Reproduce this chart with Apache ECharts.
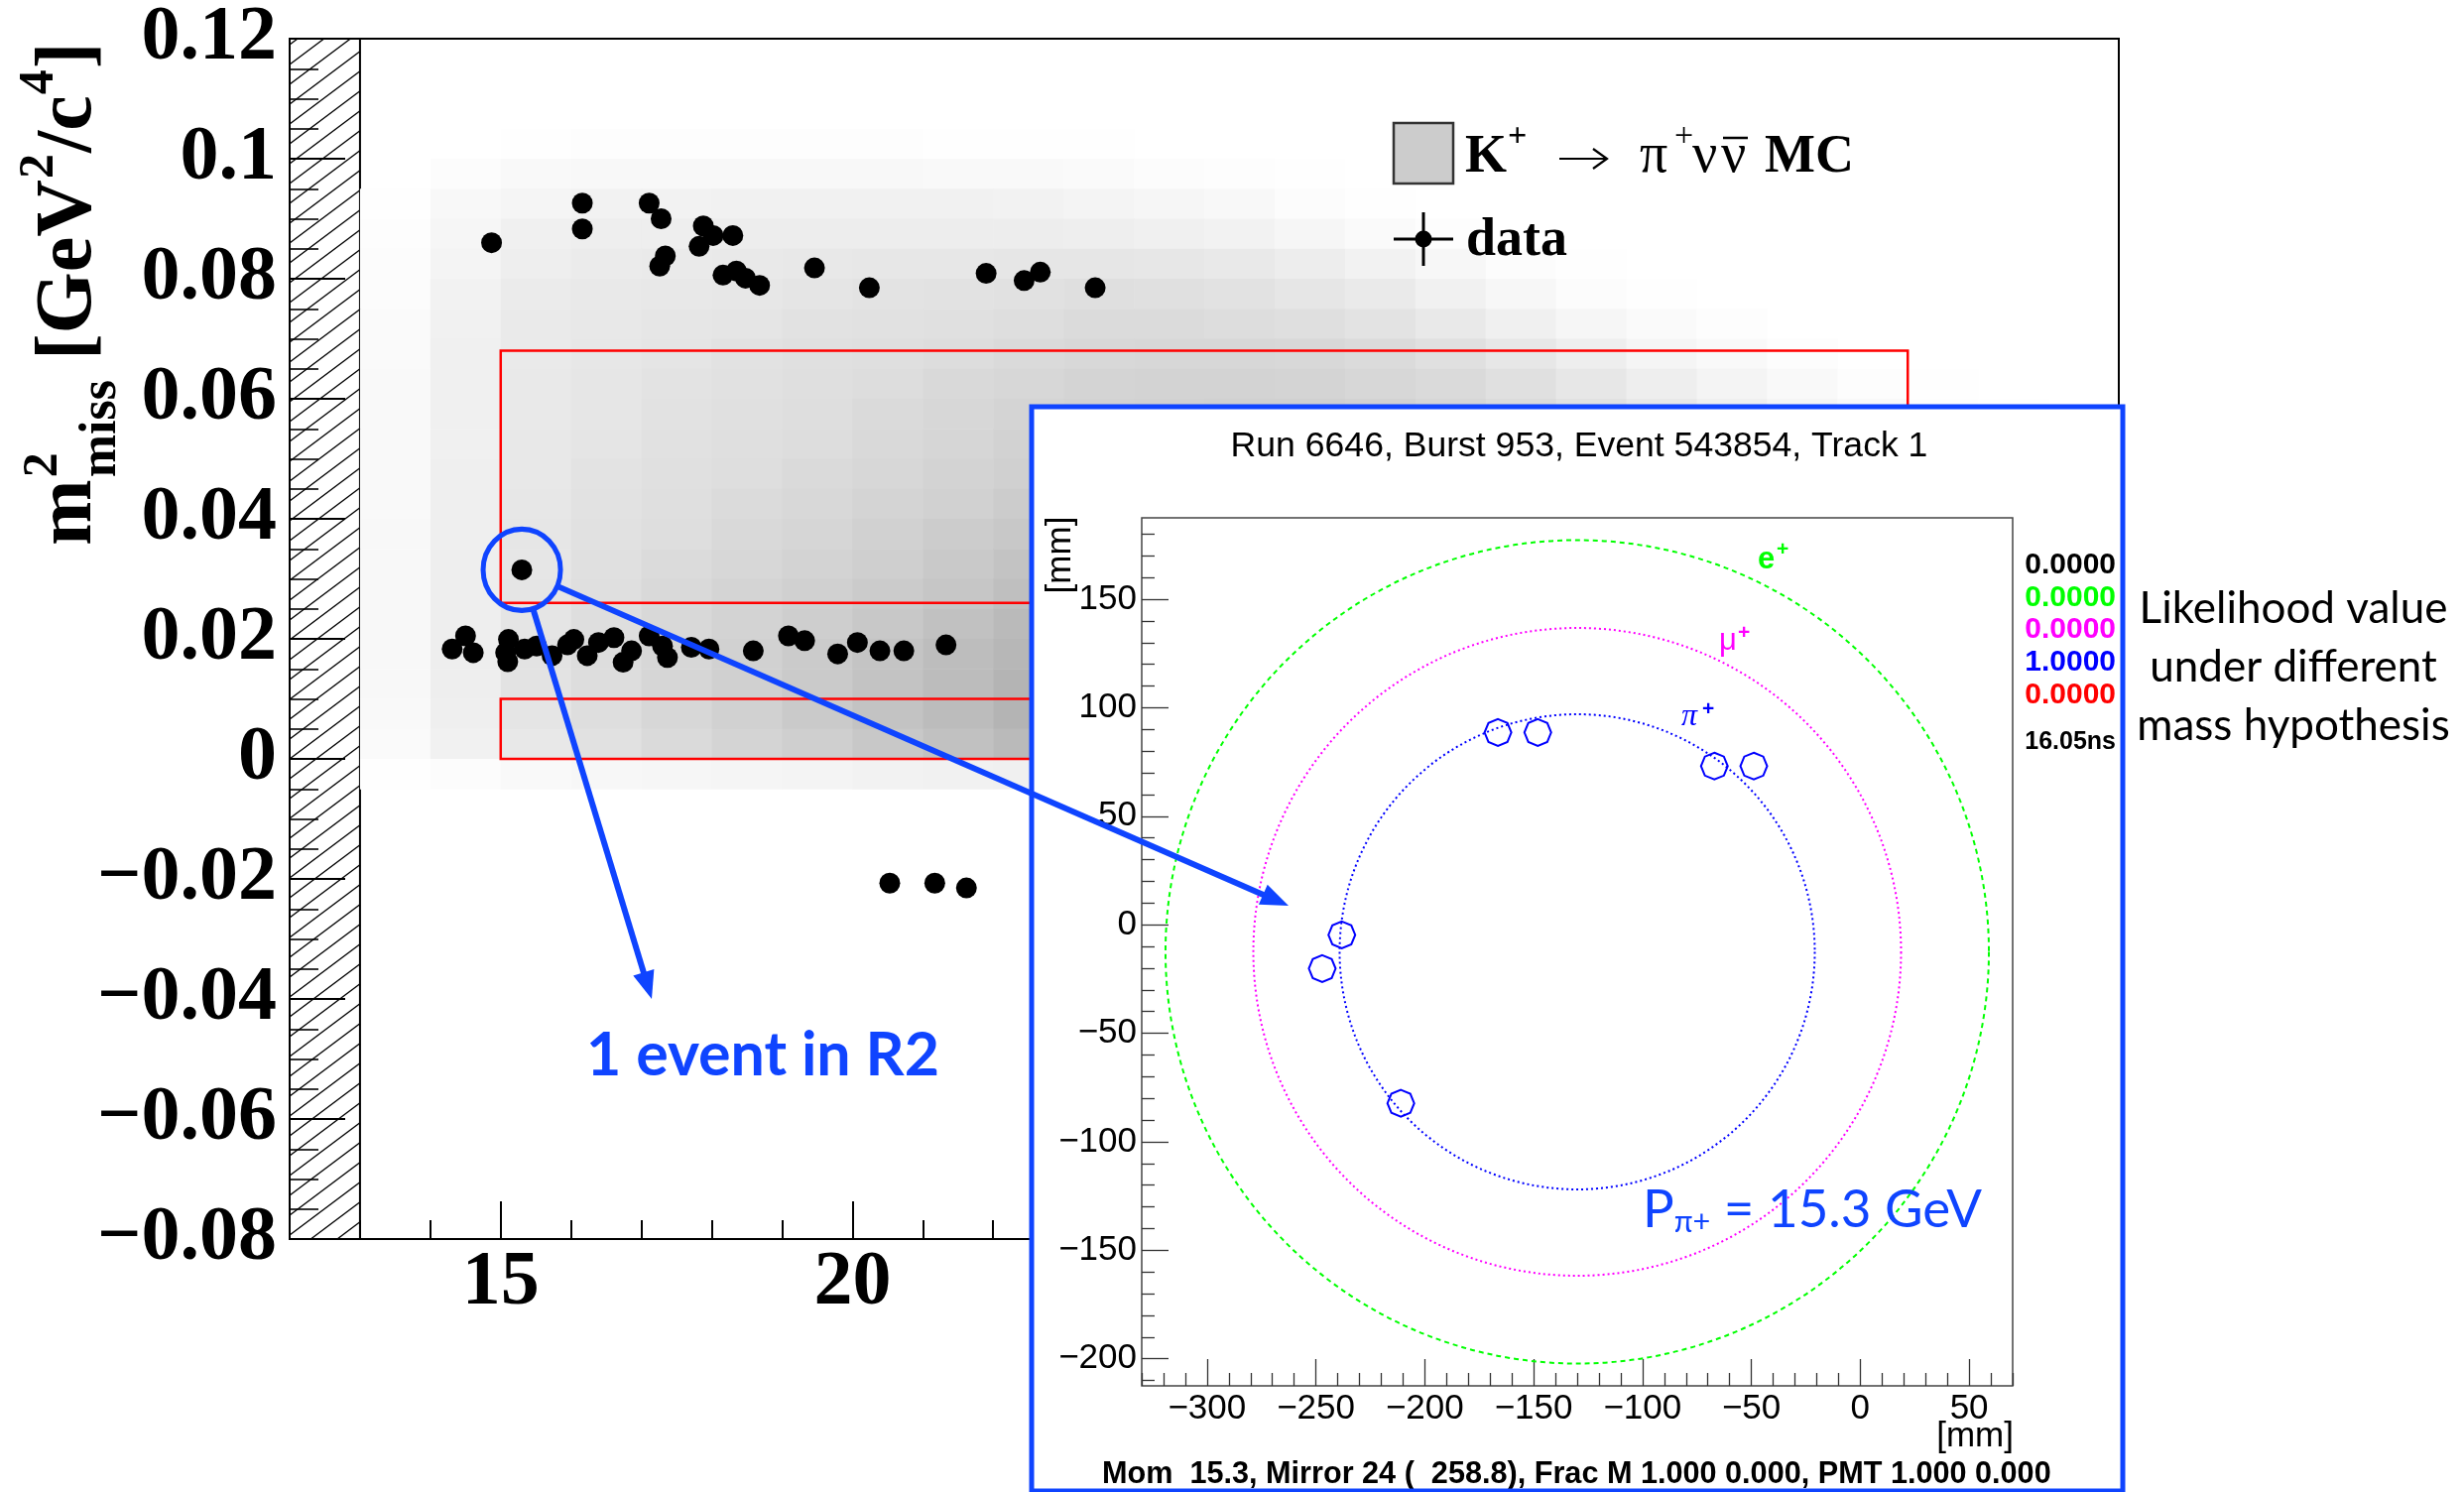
<!DOCTYPE html>
<html>
<head>
<meta charset="utf-8">
<script src="https://cdn.jsdelivr.net/npm/echarts@6/dist/echarts.min.js"></script>
<style>
html, body { margin: 0; padding: 0; background: #fff; }
#chart { width: 2484px; height: 1504px; }
</style>
</head>
<body>
<div id="chart"></div>
<script>
// ---------------- data: PNN candidate scatter ----------------
// momentum of the pi+ track [GeV/c]
const dataMomentum = [
  14.87, 16.16, 16.16, 17.11, 17.28, 17.88, 18.02, 18.30, 17.82, 17.34, 17.26,
  18.16, 18.35, 18.48, 18.68, 19.46, 20.24, 21.90, 22.44, 22.67, 23.45,
  15.3,
  14.31, 14.50, 14.61, 15.07, 15.11, 15.10, 15.34, 15.51, 15.73, 15.95, 16.04,
  16.23, 16.39, 16.61, 16.74, 16.86, 17.11, 17.30, 17.37, 17.71, 17.96, 18.59,
  19.09, 19.32, 19.79, 20.07, 20.39, 20.73, 21.33,
  20.53, 21.17, 21.62
];
// squared missing mass [GeV^2/c^4]
const dataMissMass2 = [
  0.0860, 0.0926, 0.0883, 0.0926, 0.0900, 0.0888, 0.0872, 0.0872, 0.0854, 0.0838, 0.0821,
  0.0806, 0.0813, 0.0801, 0.0789, 0.0818, 0.0785, 0.0809, 0.0797, 0.0811, 0.0785,
  0.0315,
  0.0183, 0.0205, 0.0177, 0.0177, 0.0199, 0.0162, 0.0183, 0.0188, 0.0172, 0.0190, 0.0199,
  0.0172, 0.0194, 0.0202, 0.0161, 0.0180, 0.0205, 0.0188, 0.0169, 0.0186, 0.0183, 0.0180,
  0.0205, 0.0197, 0.0175, 0.0194, 0.0180, 0.0180, 0.0190,
  -0.0207, -0.0207, -0.0215
];

// signal regions and excluded momentum band
const regionMomentum = [15, 35];
const regionR1 = [0, 0.01];
const regionR2 = [0.026, 0.068];
const vetoMomentum = [12, 13];

// K+ -> pi+ nu nubar MC density (relative darkness), 1 GeV x 0.005 GeV^2 cells.
// Rows run from the top (0.100-0.105) downwards; columns start at 13 GeV.
// Cells hidden behind the event display are not listed.
const mcMomentumStart = 13, mcMomentumStep = 1;
const mcMass2Top = 0.105, mcMass2Step = 0.005;
const mcDensity = [
  [0,0,1,2,2,2,2,2,1,1,1,0,0,0,0,0,0,0,0,0,0,0,0,0,0],
  [0,3,5,6,6,6,6,6,5,5,4,3,2,1,0,0,0,0,0,0,0,0,0,0,0],
  [1,6,9,11,11,12,12,12,12,11,10,8,6,3,1,0,0,0,0,0,0,0,0,0,0],
  [2,8,13,15,15,16,16,16,16,16,15,13,11,8,4,2,0,0,0,0,0,0,0,0,0],
  [3,10,15,17,18,19,20,21,21,22,22,21,19,16,11,7,3,1,0,0,0,0,0,0,0],
  [3,11,17,19,20,21,23,24,25,26,28,27,25,22,18,12,7,3,1,0,0,0,0,0,0],
  [4,12,18,20,22,23,25,26,27,29,31,31,30,28,24,19,13,8,4,2,0,0,0,0,0],
  [4,13,18,21,23,25,27,28,30,32,34,35,35,34,31,27,21,15,9,5,2,0,0,0,0],
  [5,13,19,22,24,26,28,30,33,35,37,38,38,37,35,32,27,21,15,10,5,2,1,0,0],
  [5,13,19,22,25,27,29,32,35,37,39,40,41,41,39,36,31,26,20,14,9,5,2,1,0],
  [5,13,20,23,26,28,30,33,36,39],
  [5,14,20,24,27,29,32,35,38,41],
  [5,14,21,25,28,31,34,37,40,44],
  [6,14,22,26,29,33,36,40,44,48],
  [6,15,22,27,31,35,38,42,47,52],
  [6,15,23,28,33,37,41,45,50,56],
  [6,15,23,29,34,38,43,48,54,60],
  [6,15,24,30,35,40,45,51,57,63],
  [6,15,24,30,36,41,46,52,58,65],
  [5,14,23,29,35,40,46,52,58,65],
  [4,12,20,26,32,37,42,48,54,60],
  [1,3,5,7,8,9,10,11,12,13]
];

const xTickLabels = [15, 20, 25, 30, 35];
const yAxisRange = [-0.08, 0.12];
const xAxisRange = [12, 38];

// ---------------- data: RICH event display ----------------
const ringHypotheses = ['e', 'μ', 'π'];
const ringRadii = [189.4, 149.0, 109.3];      // mm
const ringCenter = [-130, -12.5];              // mm
const hitX = [-166.4, -148.1, -67.0, -48.9, -238.1, -247.1, -211.0];
const hitY = [88.6, 88.6, 73.1, 73.1, -4.7, -20.2, -82.3];
const richXTicks = [-300, -250, -200, -150, -100, -50, 0, 50];
const richYTicks = [-200, -150, -100, -50, 0, 50, 100, 150];
const richXRange = [-330, 70];
const richYRange = [-212.5, 187.5];
const likelihoodValues = ['0.0000', '0.0000', '0.0000', '1.0000', '0.0000'];
const eventTime = '16.05ns';
const eventMomentum = 15.3;

// ---------------- styles ----------------
const BLUE = '#0f44ff';
const SERIF = '"Liberation Serif"';
const SANS = '"Liberation Sans"';
const CALI = 'Lato, "Open Sans", sans-serif';
const ringColors = ['#00ff00', '#ff00ff', '#0000ff'];
const ringDashes = [[5, 4], [2, 3], [2, 3]];
const likelihoodColors = ['#000000', '#00ff00', '#ff00ff', '#0000ff', '#ff0000'];

// ---------------- text helpers ----------------
const mctx = document.createElement('canvas').getContext('2d');
function fontOf(r) {
  return (r.italic ? 'italic ' : '') + (r.bold ? 'bold ' : '') + r.size + 'px ' + r.family;
}
function widthOf(r) { mctx.font = fontOf(r); return mctx.measureText(r.text).width; }
function midOf(r) {
  mctx.font = fontOf(r);
  mctx.textBaseline = 'middle';
  const d = mctx.measureText('H').actualBoundingBoxDescent;
  mctx.textBaseline = 'alphabetic';
  return d;
}
function fitSize(text, family, bold, target) {
  return 100 * target / widthOf({ text, family, bold, size: 100 });
}
function textEl(r, x, baseline, extra) {
  const align = r.align || 'left';
  return Object.assign({
    type: 'text', x: x, y: baseline - midOf(r), silent: true,
    style: {
      text: r.text, font: fontOf(r), fill: r.fill || '#000',
      textAlign: align, align: align,
      textVerticalAlign: 'middle', verticalAlign: 'middle'
    }
  }, extra || {});
}
const minusFmt = v => String(v).replace('-', '\u2212');

// ---------------- derived series data ----------------
const points = dataMomentum.map((x, i) => [x, dataMissMass2[i]]);
const mcCells = [];
mcDensity.forEach((row, i) => row.forEach((d, j) => {
  if (d > 0) mcCells.push([mcMomentumStart + j * mcMomentumStep, mcMass2Top - i * mcMass2Step, d]);
}));
const regionRects = [
  [regionMomentum[0], regionMomentum[1], regionR1[0], regionR1[1]],
  [regionMomentum[0], regionMomentum[1], regionR2[0], regionR2[1]]
];
const xMinorTicks = [];
for (let v = xAxisRange[0] + 1; v < xAxisRange[1]; v++) if (v % 5) xMinorTicks.push(v);
const richXMinor = [];
for (let v = richXRange[0]; v <= richXRange[1]; v += 10) if (v % 50) richXMinor.push(v);
const richYMinor = [];
for (let v = -210; v <= 180; v += 10) if (v % 50) richYMinor.push(v);
const rings = ringRadii.map((r, i) => [ringCenter[0], ringCenter[1], r, i]);
const hits = hitX.map((x, i) => [x, hitY[i]]);

const octagon = 'path://M50 0 L85.4 14.6 L100 50 L85.4 85.4 L50 100 L14.6 85.4 L0 50 L14.6 14.6 Z';

const mainLabelFont = { color: '#000', fontFamily: 'Liberation Serif', fontWeight: 'bold', fontSize: 78 };
const richLabelFont = { color: '#000', fontFamily: 'Liberation Sans', fontSize: 35 };
const richTick = { color: '#333', width: 1.3 };
const noLine = { show: false, onZero: false };

const chart = echarts.init(document.getElementById('chart'), null, { renderer: 'canvas', width: 2484, height: 1504 });

const option = {
  animation: false,
  backgroundColor: '#fff',
  grid: [
    { left: 292, top: 39, width: 1844, height: 1210, show: true, borderColor: '#000', borderWidth: 2, backgroundColor: 'rgba(0,0,0,0)' },
    { left: 1151, top: 522, width: 878, height: 875, show: true, borderColor: '#444', borderWidth: 1.5, backgroundColor: 'rgba(0,0,0,0)', zlevel: 1, z: 10 }
  ],
  xAxis: [
    { type: 'value', gridIndex: 0, min: xAxisRange[0], max: xAxisRange[1], position: 'bottom',
      axisLine: noLine, splitLine: { show: false },
      axisTick: { show: true, inside: true, length: 38, customValues: xTickLabels, lineStyle: { color: '#000', width: 2 } },
      axisLabel: Object.assign({ customValues: xTickLabels, margin: 6 }, mainLabelFont) },
    { type: 'value', gridIndex: 0, min: xAxisRange[0], max: xAxisRange[1], position: 'bottom',
      axisLine: noLine, splitLine: { show: false }, axisLabel: { show: false },
      axisTick: { show: true, inside: true, length: 19, customValues: xMinorTicks, lineStyle: { color: '#000', width: 2 } } },
    { type: 'value', gridIndex: 1, min: richXRange[0], max: richXRange[1], position: 'bottom', zlevel: 1, z: 11,
      axisLine: noLine, splitLine: { show: false },
      axisTick: { show: true, inside: true, length: 27, customValues: richXTicks, lineStyle: richTick },
      axisLabel: Object.assign({ customValues: richXTicks, margin: 6, formatter: minusFmt }, richLabelFont) },
    { type: 'value', gridIndex: 1, min: richXRange[0], max: richXRange[1], position: 'bottom', zlevel: 1, z: 11,
      axisLine: noLine, splitLine: { show: false }, axisLabel: { show: false },
      axisTick: { show: true, inside: true, length: 13, customValues: richXMinor, lineStyle: richTick } }
  ],
  yAxis: [
    { type: 'value', gridIndex: 0, min: yAxisRange[0], max: yAxisRange[1], interval: 0.02, z: 4,
      axisLine: noLine, splitLine: { show: false },
      axisTick: { show: true, inside: true, length: 56, lineStyle: { color: '#000', width: 2 } },
      minorTick: { show: true, splitNumber: 4, length: 29, lineStyle: { color: '#000', width: 1.6 } },
      axisLabel: Object.assign({ margin: 13, padding: [8, 0, 0, 0],
        formatter: v => minusFmt(String(+v.toFixed(2))) }, mainLabelFont) },
    { type: 'value', gridIndex: 1, min: richYRange[0], max: richYRange[1], position: 'left', zlevel: 1, z: 11,
      axisLine: noLine, splitLine: { show: false },
      axisTick: { show: true, inside: true, length: 27, customValues: richYTicks, lineStyle: richTick },
      axisLabel: Object.assign({ customValues: richYTicks, margin: 5, formatter: minusFmt }, richLabelFont) },
    { type: 'value', gridIndex: 1, min: richYRange[0], max: richYRange[1], position: 'left', zlevel: 1, z: 11,
      axisLine: noLine, splitLine: { show: false }, axisLabel: { show: false },
      axisTick: { show: true, inside: true, length: 13, customValues: richYMinor, lineStyle: richTick } }
  ],
  series: [
    { // hatched band below the momentum acceptance
      type: 'custom', name: 'veto', xAxisIndex: 0, yAxisIndex: 0, z: 1, silent: true,
      data: [[vetoMomentum[0], vetoMomentum[1]]],
      renderItem: (params, api) => {
        const a = api.coord([vetoMomentum[0], yAxisRange[1]]);
        const b = api.coord([vetoMomentum[1], yAxisRange[0]]);
        const x0 = a[0], y0 = a[1], x1 = b[0], y1 = b[1];
        const s = 0.75, step = 20;
        const children = [];
        for (let c = y0 + 6; c < y1 + s * (x1 - x0); c += step) {
          const xa = x0 + (c - y1) / s, xb = x0 + (c - y0) / s;
          const u = Math.max(x0, xa), v = Math.min(x1, xb);
          if (v <= u) continue;
          children.push({ type: 'line', shape: { x1: u, y1: c - s * (u - x0), x2: v, y2: c - s * (v - x0) },
            style: { stroke: '#000', lineWidth: 1.4 } });
        }
        children.push({ type: 'rect', shape: { x: x0, y: y0, width: x1 - x0, height: y1 - y0 },
          style: { fill: 'none', stroke: '#000', lineWidth: 2 } });
        return { type: 'group', children };
      }
    },
    { // MC density map
      type: 'custom', name: 'mc', xAxisIndex: 0, yAxisIndex: 0, z: 1, silent: true,
      data: mcCells,
      renderItem: (params, api) => {
        const x0 = api.value(0), y0 = api.value(1), d = api.value(2);
        const p0 = api.coord([x0, y0]);
        const p1 = api.coord([x0 + mcMomentumStep, y0 - mcMass2Step]);
        const g = Math.round(255 - d * 1.15);
        return { type: 'rect', shape: { x: p0[0], y: p0[1], width: p1[0] - p0[0] + 0.6, height: p1[1] - p0[1] + 0.6 },
          style: { fill: 'rgb(' + g + ',' + g + ',' + g + ')' } };
      }
    },
    { // signal regions R1 and R2
      type: 'custom', name: 'regions', xAxisIndex: 0, yAxisIndex: 0, z: 2, silent: true,
      data: regionRects,
      renderItem: (params, api) => {
        const p0 = api.coord([api.value(0), api.value(3)]);
        const p1 = api.coord([api.value(1), api.value(2)]);
        return { type: 'rect', shape: { x: p0[0], y: p0[1], width: p1[0] - p0[0], height: p1[1] - p0[1] },
          style: { fill: 'none', stroke: '#ff0000', lineWidth: 2.5 } };
      }
    },
    { type: 'scatter', name: 'data', xAxisIndex: 0, yAxisIndex: 0, z: 3, silent: true,
      symbol: 'circle', symbolSize: 21, itemStyle: { color: '#000', opacity: 1 }, data: points },
    { // expected Cherenkov rings for each mass hypothesis
      type: 'custom', name: 'rings', xAxisIndex: 2, yAxisIndex: 1, zlevel: 1, z: 12, silent: true,
      data: rings,
      renderItem: (params, api) => {
        const c = api.coord([api.value(0), api.value(1)]);
        const sz = api.size([api.value(2), api.value(2)]);
        const i = api.value(3);
        return { type: 'circle', shape: { cx: c[0], cy: c[1], r: (sz[0] + sz[1]) / 2 },
          style: { fill: 'none', stroke: ringColors[i], lineWidth: 2, lineDash: ringDashes[i] } };
      }
    },
    { type: 'scatter', name: 'hits', xAxisIndex: 2, yAxisIndex: 1, zlevel: 1, z: 13, silent: true,
      symbol: octagon, symbolSize: 27,
      itemStyle: { color: 'rgba(0,0,0,0)', borderColor: '#0000ff', borderWidth: 2, opacity: 1 }, data: hits }
  ]
};
chart.setOption(option);

// ---------------- annotations ----------------
const g = [];

// y axis title: m^2_miss [GeV^2/c^4], read bottom to top
(function () {
  const big = t => ({ text: t, size: 80, bold: true, family: SERIF });
  const small = t => ({ text: t, size: 50, bold: true, family: SERIF });
  const kids = [];
  let lx = 0;
  const m = big('m'); kids.push(textEl(m, lx, 0)); lx += widthOf(m) + 2;
  const s2 = small('2'), sub = { text: 'miss', size: 52, bold: true, family: SERIF };
  kids.push(textEl(s2, lx, -34)); kids.push(textEl(sub, lx, 25));
  lx += Math.max(widthOf(s2), widthOf(sub)) + 20;
  const g1 = big('[GeV'); kids.push(textEl(g1, lx, 0)); lx += widthOf(g1) + 1;
  const s2b = small('2'); kids.push(textEl(s2b, lx, -38)); lx += widthOf(s2b) + 1;
  const g2 = big('/c'); kids.push(textEl(g2, lx, 0)); lx += widthOf(g2) + 1;
  const s4 = small('4'); kids.push(textEl(s4, lx, -38)); lx += widthOf(s4) + 1;
  kids.push(textEl(big(']'), lx, 0));
  g.push({ type: 'group', x: 91, y: 550, rotation: Math.PI / 2, children: kids });
})();

// legend
g.push({ type: 'rect', shape: { x: 1405, y: 124, width: 60, height: 61 }, style: { fill: '#cccccc', stroke: '#333', lineWidth: 2.5 }, z: 10 });
g.push(textEl({ text: 'K', size: 54, bold: true, family: SERIF }, 1477, 173, { z: 10 }));
g.push(textEl({ text: '+', size: 34, bold: true, family: SERIF }, 1520, 147, { z: 10 }));
// thin arrow
g.push({ type: 'line', shape: { x1: 1572, y1: 160, x2: 1619, y2: 160 }, style: { stroke: '#000', lineWidth: 2.2 }, z: 10 });
g.push({ type: 'polyline', shape: { points: [[1606, 150], [1620, 160], [1606, 170]] }, style: { stroke: '#000', lineWidth: 2.2, fill: 'none' }, z: 10 });
g.push(textEl({ text: '\u03c0', size: 56, family: SERIF }, 1653, 173, { z: 10 }));
g.push(textEl({ text: '+', size: 34, family: SERIF }, 1688, 147, { z: 10 }));
g.push(textEl({ text: '\u03bd', size: 56, family: SERIF }, 1706, 173, { z: 10 }));
g.push(textEl({ text: '\u03bd', size: 56, family: SERIF }, 1735, 173, { z: 10 }));
g.push({ type: 'line', shape: { x1: 1737, y1: 139, x2: 1762, y2: 139 }, style: { stroke: '#000', lineWidth: 2.5 }, z: 10 });
g.push(textEl({ text: 'MC', size: 54, bold: true, family: SERIF }, 1779, 173, { z: 10 }));
g.push({ type: 'line', shape: { x1: 1405, y1: 241, x2: 1465, y2: 241 }, style: { stroke: '#000', lineWidth: 3 }, z: 10 });
g.push({ type: 'line', shape: { x1: 1435, y1: 214, x2: 1435, y2: 268 }, style: { stroke: '#000', lineWidth: 3 }, z: 10 });
g.push({ type: 'circle', shape: { cx: 1435, cy: 241, r: 8.5 }, style: { fill: '#000' }, z: 10 });
g.push(textEl({ text: 'data', size: 54, bold: true, family: SERIF }, 1478, 257, { z: 10 }));

// likelihood caption outside the event display
(function () {
  const lines = ['Likelihood value', 'under different', 'mass hypothesis'];
  const size = fitSize(lines[0], CALI, false, 311);
  [628, 687, 746].forEach((b, i) => g.push(textEl({ text: lines[i], size, family: CALI, align: 'center' }, 2312, b)));
})();

// event display panel
const Z1 = { zlevel: 1, z: 20 };
g.push({ type: 'rect', shape: { x: 1040, y: 410, width: 1100, height: 1094 }, style: { fill: '#fff' }, zlevel: 1, z: 0, silent: true });
(function () {
  const title = 'Run 6646, Burst 953, Event 543854, Track 1';
  g.push(textEl({ text: title, size: fitSize(title, SANS, false, 703), family: SANS, align: 'center' }, 1592, 460, Z1));
  const info = 'Mom  ' + eventMomentum.toFixed(1) + ', Mirror 24 (  258.8), Frac M 1.000 0.000, PMT 1.000 0.000';
  g.push(textEl({ text: info, size: fitSize(info, SANS, true, 957), bold: true, family: SANS }, 1111, 1495, Z1));
  [577.6, 610.7, 643, 676, 709].forEach((b, i) =>
    g.push(textEl({ text: likelihoodValues[i], size: 30, bold: true, family: SANS, fill: likelihoodColors[i], align: 'right' }, 2133, b, Z1)));
  g.push(textEl({ text: eventTime, size: 25, bold: true, family: SANS, align: 'right' }, 2133, 755, Z1));
  g.push({ type: 'text', x: 1069.5, y: 559.5, rotation: Math.PI / 2, zlevel: 1, z: 20,
    style: { text: '[mm]', font: '35px ' + SANS, fill: '#000', textAlign: 'center', align: 'center', textVerticalAlign: 'middle', verticalAlign: 'middle' } });
  g.push(textEl({ text: '[mm]', size: 35, family: SANS, align: 'right' }, 2030, 1458, Z1));
  // ring labels
  const lab = [
    [{ text: 'e', size: 31, bold: true, family: SANS }, 1772, 573, 1791, 560],
    [{ text: '\u03bc', size: 31, family: SANS }, 1733, 655, 1752, 644],
    [{ text: '\u03c0', size: 32, italic: true, family: SERIF }, 1695, 731, 1716, 721]
  ];
  lab.forEach((l, i) => {
    l[0].fill = ringColors[i];
    g.push(textEl(l[0], l[1], l[2], Z1));
    g.push(textEl({ text: '+', size: 21, bold: true, family: SANS, fill: ringColors[i] }, l[3], l[4], Z1));
  });
  // momentum label
  const P = { text: 'P', family: CALI }, sub = { text: '\u03c0+', family: CALI }, rest = { text: ' = ' + eventMomentum.toFixed(1) + ' GeV', family: CALI };
  const unit = (widthOf(Object.assign({}, P, { size: 100 })) + widthOf(Object.assign({}, sub, { size: 58 })) + widthOf(Object.assign({}, rest, { size: 100 }))) / 100;
  const S = 342 / unit;
  let x = 1656;
  P.size = S; P.fill = BLUE; g.push(textEl(P, x, 1237, { zlevel: 2 })); x += widthOf(P);
  sub.size = S * 0.58; sub.fill = BLUE; g.push(textEl(sub, x, 1242, { zlevel: 2 })); x += widthOf(sub);
  rest.size = S; rest.fill = BLUE; g.push(textEl(rest, x, 1237, { zlevel: 2 }));
})();
g.push({ type: 'rect', shape: { x: 1040, y: 410, width: 1100, height: 1093 }, style: { fill: 'none', stroke: BLUE, lineWidth: 5 }, zlevel: 1, z: 40, silent: true });

// highlighted R2 event with arrows
(function () {
  const idx = dataMomentum.findIndex((p, i) => p >= regionMomentum[0] && p <= regionMomentum[1] &&
    dataMissMass2[i] >= regionR2[0] && dataMissMass2[i] <= regionR2[1]);
  const c = chart.convertToPixel({ xAxisIndex: 0, yAxisIndex: 0 }, [dataMomentum[idx], dataMissMass2[idx]]);
  const rx = 39, ry = 41;
  g.push({ type: 'circle', x: c[0], y: c[1], scaleX: 1, scaleY: ry / rx, shape: { cx: 0, cy: 0, r: rx },
    style: { fill: 'none', stroke: BLUE, lineWidth: 5 }, zlevel: 2 });
  function arrow(to) {
    const ang = Math.atan2(to[1] - c[1], to[0] - c[0]);
    const from = [c[0] + rx * Math.cos(ang), c[1] + ry * Math.sin(ang)];
    const dx = to[0] - from[0], dy = to[1] - from[1], L = Math.hypot(dx, dy), ux = dx / L, uy = dy / L;
    const hl = 28, hw = 11;
    const base = [to[0] - ux * hl, to[1] - uy * hl];
    g.push({ type: 'line', shape: { x1: from[0], y1: from[1], x2: base[0] + ux * 4, y2: base[1] + uy * 4 },
      style: { stroke: BLUE, lineWidth: 6 }, zlevel: 2 });
    g.push({ type: 'polygon', shape: { points: [to, [base[0] - uy * hw, base[1] + ux * hw], [base[0] + uy * hw, base[1] - ux * hw]] },
      style: { fill: BLUE }, zlevel: 2 });
  }
  arrow([657, 1007]);
  arrow([1299, 913]);
  const t = '1 event in R2';
  g.push(textEl({ text: t, size: fitSize(t, CALI, true, 356), bold: true, family: CALI, fill: BLUE, align: 'center' }, 769, 1084, { zlevel: 2 }));
})();

chart.setOption({ graphic: { elements: g } });
</script>
</body>
</html>
